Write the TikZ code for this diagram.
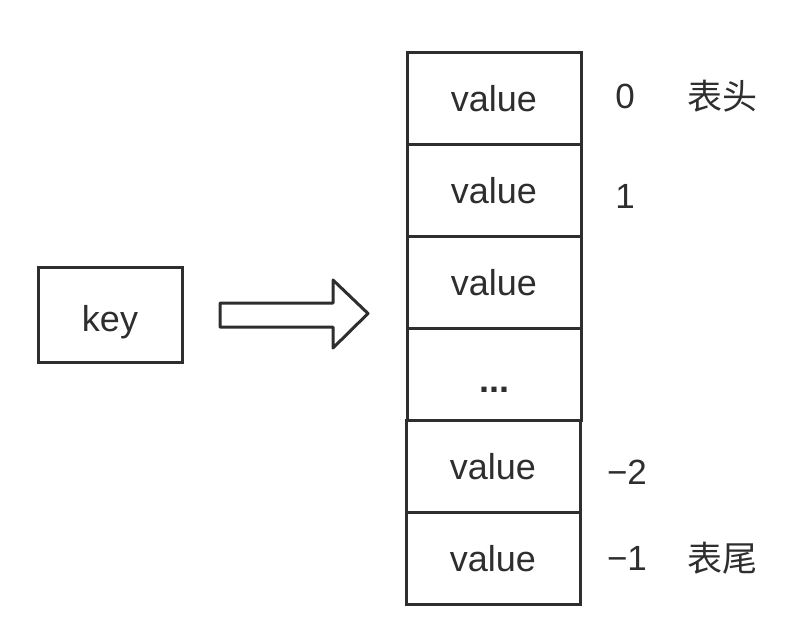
\documentclass[tikz,border=0pt]{standalone}
\usepackage{fontspec}
\setmainfont{Liberation Sans}
\newfontfamily\cjk{Noto Sans CJK SC}
\definecolor{ink}{HTML}{2E2E2E}
\begin{document}
\begin{tikzpicture}[x=1pt,y=-1pt,
  cell/.style={draw=ink,line width=3pt,minimum width=174pt,minimum height=92pt,inner sep=0pt,text=ink,text height=26pt,text depth=0pt,font=\fontsize{36}{40}\selectfont},
  lbl/.style={text=ink,font=\fontsize{35}{40}\selectfont,inner sep=0pt},
  lblc/.style={text=ink,font=\cjk\fontsize{35}{40}\selectfont,inner sep=0pt}]
\useasboundingbox (0,0) rectangle (806,624);
\node[cell,minimum width=144pt,minimum height=95pt,text height=34pt] (key) at (110,314.5) {key};
\node[cell] (v0) at (494,98) {value};
\node[cell] (v1) at (494,190) {value};
\node[cell] (v2) at (494,282) {value};
\node[cell,text height=36pt] (v3) at (494,374) {\textbf{...}};
\node[cell] (v4) at (493,466) {value};
\node[cell] (v5) at (493,558) {value};
\draw[ink,line width=3pt,line join=round,fill=white]
  (220,303) -- (333,303) -- (333,280) -- (368,313.5) -- (333,348) -- (333,327) -- (220,327) -- cycle;
\node[lbl] (i0) at (625,96) {0};
\node[lblc] (h0) at (722,96) {表头};
\node[lbl] (i1) at (625,196) {1};
\node[lbl] (i4) at (627,472) {−2};
\node[lbl] (i5) at (627,558) {−1};
\node[lblc] (h5) at (722,558) {表尾};
\end{tikzpicture}
\end{document}
